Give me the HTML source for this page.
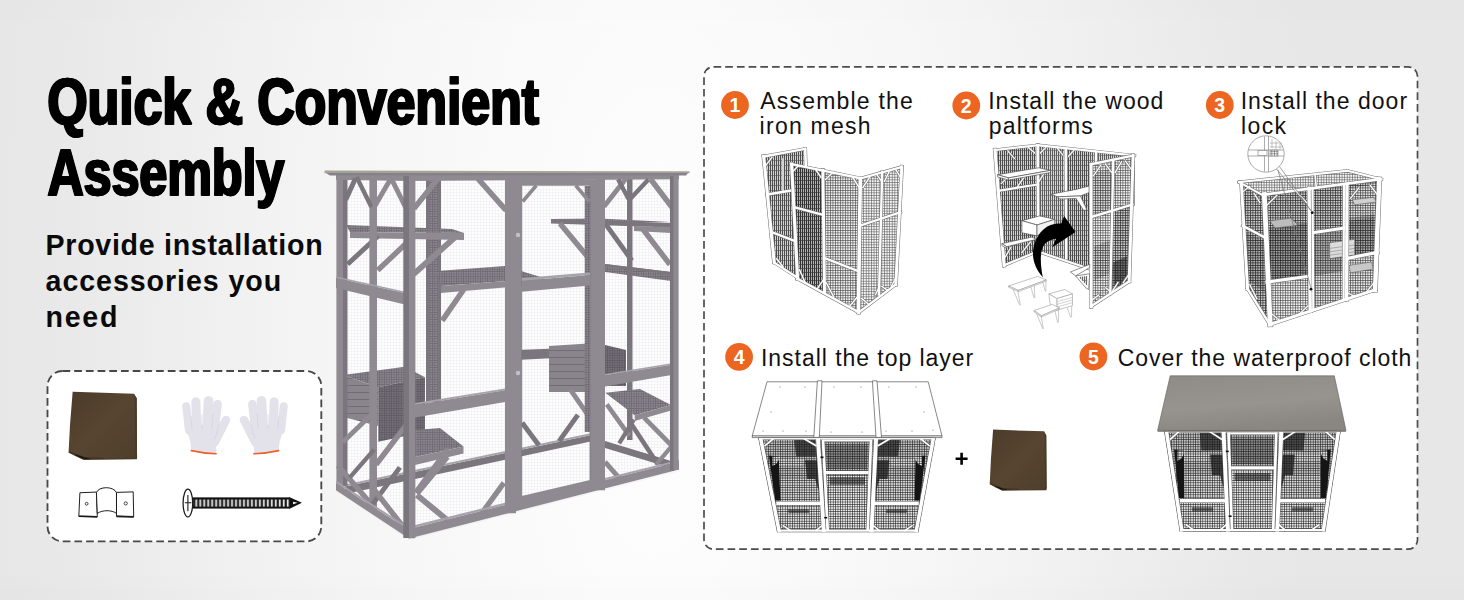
<!DOCTYPE html>
<html>
<head>
<meta charset="utf-8">
<title>Quick &amp; Convenient Assembly</title>
<style>
html,body{margin:0;padding:0;background:#fff;}
body{width:1464px;height:600px;overflow:hidden;font-family:"Liberation Sans",sans-serif;}
svg{display:block;}
text{font-family:"Liberation Sans",sans-serif;}
.hd{font-weight:bold;font-size:65.2px;fill:#000;stroke:#000;stroke-width:1.5px;stroke-linejoin:miter;stroke-miterlimit:2;}
.sub{font-weight:bold;font-size:28.6px;fill:#0a0a0a;}
.lbl{font-size:23px;fill:#111;}
.num{font-weight:bold;font-size:19.5px;fill:#fff;text-anchor:middle;}
</style>
</head>
<body>
<svg width="1464" height="600" viewBox="0 0 1464 600">
<defs>
  <radialGradient id="bgR" gradientUnits="userSpaceOnUse" cx="0" cy="0" r="1" gradientTransform="translate(655 360) scale(650 1700)">
    <stop offset="0" stop-color="#fefefe"/>
    <stop offset="0.18" stop-color="#fbfbfb"/>
    <stop offset="0.41" stop-color="#f7f7f7"/>
    <stop offset="0.64" stop-color="#f1f1f1"/>
    <stop offset="0.90" stop-color="#e9e9e9"/>
    <stop offset="1" stop-color="#e7e7e7"/>
  </radialGradient>
  <linearGradient id="bgV" x1="0" y1="0" x2="0" y2="1">
    <stop offset="0" stop-color="#000" stop-opacity="0.006"/>
    <stop offset="0.05" stop-color="#000" stop-opacity="0"/>
    <stop offset="0.95" stop-color="#000" stop-opacity="0"/>
    <stop offset="1" stop-color="#000" stop-opacity="0.01"/>
  </linearGradient>

  <pattern id="meshL" width="3" height="3" patternUnits="userSpaceOnUse"><rect width="3" height="3" fill="#fefefe"/><path d="M0 0.5H3M0.5 0V3" stroke="#eeedf0" stroke-width="0.6"/></pattern>
  <pattern id="meshD" width="2.4" height="2.4" patternUnits="userSpaceOnUse"><rect width="2.4" height="2.4" fill="#8d8890"/><path d="M0 0.4H2.4M0.4 0V2.4" stroke="#6f6a73" stroke-width="0.8"/></pattern>
  <pattern id="meshDD" width="2.4" height="2.4" patternUnits="userSpaceOnUse"><rect width="2.4" height="2.4" fill="#77727a"/><path d="M0 0.4H2.4M0.4 0V2.4" stroke="#5f5a63" stroke-width="0.8"/></pattern>
  <pattern id="slat" width="6" height="7" patternUnits="userSpaceOnUse"><rect width="6" height="7" fill="#8a858c"/><path d="M0 0.5H6" stroke="#716c75" stroke-width="1"/></pattern>

  <linearGradient id="tarpG" x1="0" y1="0" x2="1" y2="1">
    <stop offset="0" stop-color="#4b3b29"/><stop offset="0.5" stop-color="#574531"/><stop offset="1" stop-color="#4e3e2b"/>
  </linearGradient>
  <g id="tarp">
    <path d="M64,508 L118,534 L178,562 L578,557 L576,530 L70,480 Z" fill="#4a3c2b"/>
    <path d="M104,522 L168,552 L230,556 L150,528 Z" fill="#15110c"/>
    <path d="M95,50 L555,65 L575,100 L578,546 L330,549 L186,543 L122,520 L65,497 L75,300 Z" fill="url(#tarpG)"/>
    <path d="M555,65 L575,100 L578,546 L566,546 L560,90 Z" fill="#493a29"/>
    <path d="M66,498 L122,521 L186,544 L330,550" fill="none" stroke="#2b2219" stroke-width="4"/>
  </g>
  <g id="glove">
    <g stroke="#e3e1e9" stroke-linecap="round" fill="none">
      <line x1="142" y1="340" x2="122" y2="160" stroke-width="60"/>
      <line x1="200" y1="330" x2="194" y2="126" stroke-width="68"/>
      <line x1="278" y1="330" x2="289" y2="118" stroke-width="72"/>
      <line x1="335" y1="340" x2="357" y2="143" stroke-width="64"/>
      <line x1="335" y1="430" x2="420" y2="262" stroke-width="64"/>
    </g>
    <path d="M112,300 L372,300 L366,380 L346,452 L346,512 Q250,512 160,490 L152,420 Z" fill="#e3e1e9"/>
    <g stroke="#d2d0da" stroke-width="5" fill="none" stroke-linecap="round">
      <path d="M158,235 L166,330"/><path d="M238,222 L240,330"/><path d="M322,215 L312,330"/><path d="M366,300 L340,400"/>
    </g>
    <path d="M160,492 Q250,512 346,516" fill="none" stroke="#e9642a" stroke-width="12" stroke-linecap="round"/>
  </g>

  <pattern id="thr" width="22.4" height="40" patternUnits="userSpaceOnUse" x="752" y="138"><rect width="22.4" height="40" fill="#111"/><rect x="10" y="0" width="10" height="40" fill="#f4f4f4"/></pattern>

  <pattern id="hV" width="2" height="5" patternUnits="userSpaceOnUse"><rect width="2" height="5" fill="#d2d2d2"/><rect width="0.9" height="5" fill="#3c3c3c"/><rect width="2" height="0.6" fill="#555"/></pattern>
  <pattern id="hVd" width="2" height="4" patternUnits="userSpaceOnUse"><rect width="2" height="4" fill="#b4b4b4"/><rect width="1" height="4" fill="#303030"/><rect width="2" height="0.7" fill="#3a3a3a"/></pattern>
  <pattern id="hVl" width="2" height="5" patternUnits="userSpaceOnUse"><rect width="2" height="5" fill="#dedede"/><rect width="0.8" height="5" fill="#4a4a4a"/><rect width="2" height="0.6" fill="#666"/></pattern>
  <pattern id="gM" width="2.5" height="2.5" patternUnits="userSpaceOnUse"><rect width="2.5" height="2.5" fill="#f1f1f1"/><path d="M0.4 0V2.5M0 0.4H2.5" stroke="#444" stroke-width="0.6"/></pattern>
  <pattern id="gMl" width="2.6" height="2.6" patternUnits="userSpaceOnUse"><rect width="2.6" height="2.6" fill="#f5f5f5"/><path d="M0.4 0V2.6M0 0.4H2.6" stroke="#585858" stroke-width="0.6"/></pattern>
  <pattern id="gMd" width="2.5" height="2.5" patternUnits="userSpaceOnUse"><rect width="2.5" height="2.5" fill="#cdcdcd"/><path d="M0.4 0V2.5M0 0.4H2.5" stroke="#2e2e2e" stroke-width="0.72"/></pattern>
  <pattern id="gK" width="2.4" height="2.4" patternUnits="userSpaceOnUse"><path d="M0.4 0V2.4M0 0.4H2.4" stroke="#161616" stroke-width="0.54"/></pattern>

  <linearGradient id="roofG" x1="0" y1="0" x2="0.3" y2="1"><stop offset="0" stop-color="#8f8c87"/><stop offset="0.6" stop-color="#979490"/><stop offset="1" stop-color="#8a8783"/></linearGradient>

</defs>
<!-- BACKGROUND -->
<rect x="0" y="0" width="1464" height="600" fill="#e7e7e7"/>
<rect x="0" y="0" width="1464" height="600" fill="url(#bgR)"/>
<rect x="0" y="0" width="1464" height="600" fill="url(#bgV)"/>

<!-- HEADLINE -->
<g id="headline">
  <g id="hl1"><text class="hd" x="47.4" y="124" textLength="491.6" lengthAdjust="spacingAndGlyphs">Quick &amp; Convenient</text></g>
  <use href="#hl1" x="-0.6"/><use href="#hl1" x="0.6"/>
  <g id="hl2"><text class="hd" x="47.5" y="195" textLength="236.8" lengthAdjust="spacingAndGlyphs">Assembly</text></g>
  <use href="#hl2" x="-0.6"/><use href="#hl2" x="0.6"/>
</g>
<g id="subhead">
  <text class="sub" x="45.6" y="254.8" textLength="277" lengthAdjust="spacing">Provide installation</text>
  <text class="sub" x="45.6" y="291" textLength="235.5" lengthAdjust="spacing">accessories you</text>
  <text class="sub" x="45.6" y="327.3" textLength="71.8" lengthAdjust="spacing">need</text>
</g>

<!-- ACCESSORY BOX -->
<rect id="accbox" x="47.5" y="371" width="273.8" height="170.4" rx="15" ry="15" fill="#ffffff" stroke="#484848" stroke-width="1.85" stroke-dasharray="7.7 4"/>
<g id="acc">
<use href="#tarp" transform="translate(60 385) scale(0.13333)"/>
<use href="#glove" transform="translate(170 385) scale(0.13333)"/>
<use href="#glove" transform="translate(300 385) scale(-0.13333 0.13333)"/>
<g transform="translate(60 475) scale(0.17762)" fill="#fff" stroke="#1a1a1a" stroke-width="5.5" stroke-linejoin="round">
<path d="M112,100 L205,96 L210,234 L106,232 Z"/>
<path d="M318,98 L412,95 L415,235 L318,232 Z"/>
<path d="M205,100 C215,62 305,62 318,100 L318,216 C290,196 240,196 210,216 Z"/>
<path d="M106,232 L210,236 M318,233 L415,236" stroke-width="9"/>
<circle cx="150" cy="162" r="8" stroke-width="4.5"/><circle cx="370" cy="160" r="9" stroke-width="4.5"/>
<rect x="748" y="126" width="544" height="63" fill="#111" stroke="none"/>
<rect x="752" y="138" width="538" height="40" fill="url(#thr)" stroke="none"/>
<path d="M1290,124 L1362,156 L1290,191 Z" fill="#111" stroke="none"/>
<path d="M1312,150 L1338,156 L1312,164 Z" fill="#fff" stroke="none"/>
<ellipse cx="720" cy="158" rx="27" ry="78" stroke-width="7"/>
<path d="M720,112 V204 M703,156 H740" stroke-width="6" fill="none"/>
</g>
</g>

<!-- PRODUCT -->
<g id="catio">
<polygon points="336,491 409,540 680,471 640,455" fill="#000" opacity="0.03"/>
<polygon points="342.0,178.0 409.0,178.0 409.0,532.0 342.0,488.0" fill="url(#meshL)" />
<polygon points="409.0,178.0 674.0,178.0 674.0,466.0 409.0,532.0" fill="url(#meshL)" />
<polygon points="426.0,178.0 441.0,178.0 441.0,402.0 426.0,402.0" fill="url(#meshD)" />
<polygon points="426.0,178.0 429.0,178.0 429.0,402.0 426.0,402.0" fill="#7b767e" />
<polygon points="438.0,178.0 441.0,178.0 441.0,402.0 438.0,402.0" fill="#7b767e" />
<polygon points="516.0,350.0 596.0,347.0 596.0,356.0 516.0,360.0" fill="#7b767e" />
<polygon points="605.0,264.0 671.0,272.0 671.0,281.0 605.0,272.0" fill="url(#meshD)" />
<polygon points="605.0,264.0 671.0,272.0 671.0,274.5 605.0,266.5" fill="#7b767e" />
<polygon points="345.0,486.5 600.0,433.2 600.0,439.5 345.0,494.0" fill="#7b767e" />
<polygon points="345.0,484.5 600.0,431.2 600.0,433.2 345.0,486.5" fill="#a7a3aa" />
<polygon points="627.0,178.0 632.5,178.0 632.5,440.0 627.0,440.0" fill="#7b767e" />
<polygon points="346.0,225.0 452.0,229.0 464.0,233.0 350.0,232.0" fill="url(#meshD)" />
<polygon points="350.0,232.0 464.0,233.0 464.0,240.0 350.0,238.0" fill="#8f8a92" />
<line x1="347.6" y1="264.2" x2="378.4" y2="235.8" stroke="#7b767e" stroke-width="4.9"/>
<line x1="377.7" y1="270.2" x2="414.3" y2="235.8" stroke="#8f8a92" stroke-width="5.4"/>
<line x1="413.6" y1="274.1" x2="454.4" y2="237.9" stroke="#8f8a92" stroke-width="5.9"/>
<polygon points="437.0,271.0 505.0,266.0 544.0,278.0 441.0,286.0" fill="url(#meshD)" />
<polygon points="441.0,286.0 544.0,278.0 544.0,284.0 441.0,293.0" fill="#8f8a92" />
<line x1="442.2" y1="320.6" x2="463.8" y2="289.4" stroke="#8f8a92" stroke-width="5.4"/>
<polygon points="551.0,219.0 600.0,218.5 671.0,222.0 560.0,224.0" fill="url(#meshD)" />
<polygon points="551.0,219.0 671.0,223.0 671.0,227.5 551.0,223.5" fill="#7b767e" />
<polygon points="634.0,226.0 671.0,227.0 671.0,233.0 634.0,231.0" fill="#8f8a92" />
<line x1="560.0" y1="223.5" x2="594.0" y2="264.5" stroke="#8f8a92" stroke-width="5.4"/>
<line x1="605.1" y1="223.4" x2="631.9" y2="260.6" stroke="#7b767e" stroke-width="4.9"/>
<line x1="643.1" y1="229.5" x2="669.9" y2="264.5" stroke="#8f8a92" stroke-width="5.4"/>
<polygon points="549.0,346.0 596.0,343.0 596.0,392.0 549.0,392.0" fill="url(#slat)" />
<polygon points="605.0,345.0 626.0,350.0 626.0,386.0 605.0,386.0" fill="url(#meshDD)" />
<line x1="570.2" y1="389.4" x2="591.8" y2="420.6" stroke="#8f8a92" stroke-width="4.9"/>
<polygon points="605.0,441.0 671.0,461.0 671.0,468.0 605.0,448.0" fill="#7b767e" />
<line x1="606.8" y1="404.4" x2="629.2" y2="435.6" stroke="#8f8a92" stroke-width="4.6"/>
<line x1="631.2" y1="423.7" x2="657.8" y2="464.3" stroke="#7b767e" stroke-width="4.6"/>
<line x1="619.2" y1="443.3" x2="633.8" y2="419.7" stroke="#7b767e" stroke-width="4.2"/>
<line x1="644.1" y1="417.6" x2="671.9" y2="445.9" stroke="#8f8a92" stroke-width="4.8"/>
<line x1="656.5" y1="464.1" x2="671.5" y2="446.4" stroke="#8f8a92" stroke-width="4.2"/>
<polygon points="605.3,392.7 640.0,389.0 671.0,405.0 634.7,415.3" fill="url(#meshD)" />
<polygon points="634.7,415.3 671.0,405.0 671.0,410.5 634.7,421.0" fill="#8f8a92" />
<line x1="577.9" y1="414.8" x2="559.1" y2="441.2" stroke="#7b767e" stroke-width="4.9"/>
<line x1="522.1" y1="422.8" x2="538.9" y2="445.2" stroke="#7b767e" stroke-width="4.9"/>
<polygon points="343.3,375.0 405.0,366.7 425.0,377.3 378.3,387.3" fill="url(#meshD)" />
<polygon points="343.3,375.0 378.3,387.3 378.3,426.0 343.3,417.0" fill="url(#slat)" />
<polygon points="378.3,387.3 425.0,377.3 425.0,431.7 378.3,441.7" fill="url(#meshDD)" />
<polygon points="415.0,430.0 440.0,428.0 463.5,446.5 415.0,457.0" fill="url(#meshD)" />
<polygon points="415.0,457.0 463.5,446.5 463.5,453.5 415.0,465.0" fill="#8f8a92" />
<line x1="416.7" y1="493.5" x2="447.3" y2="456.5" stroke="#8f8a92" stroke-width="5.9"/>
<polygon points="336.4,176.0 343.0,176.0 343.0,490.0 336.4,490.0" fill="#8f8a92" />
<polygon points="343.0,176.0 347.5,176.0 347.5,486.0 343.0,486.0" fill="#7b767e" />
<polygon points="369.4,176.0 377.0,176.0 377.0,511.0 369.4,511.0" fill="#8f8a92" />
<polygon points="336.0,173.7 409.0,174.0 409.0,181.0 336.0,179.8" fill="#8f8a92" />
<line x1="345.7" y1="199.8" x2="355.3" y2="178.7" stroke="#7b767e" stroke-width="5.0"/>
<line x1="356.6" y1="177.1" x2="371.4" y2="206.9" stroke="#7b767e" stroke-width="4.4"/>
<line x1="374.4" y1="206.8" x2="391.6" y2="177.2" stroke="#8f8a92" stroke-width="4.9"/>
<line x1="390.6" y1="177.1" x2="406.4" y2="208.9" stroke="#8f8a92" stroke-width="4.9"/>
<polygon points="336.0,276.6 409.0,292.4 409.0,294.0 336.0,278.0" fill="#a7a3aa" /><polygon points="336.0,278.0 409.0,294.0 409.0,305.5 336.0,288.0" fill="#8f8a92" />
<line x1="342.7" y1="442.2" x2="374.3" y2="411.8" stroke="#8f8a92" stroke-width="4.9"/>
<line x1="376.1" y1="464.5" x2="405.9" y2="425.5" stroke="#8f8a92" stroke-width="5.4"/>
<line x1="337.9" y1="465.6" x2="374.1" y2="507.4" stroke="#8f8a92" stroke-width="5.4"/>
<line x1="349.9" y1="477.4" x2="374.1" y2="449.6" stroke="#7b767e" stroke-width="4.4"/>
<line x1="370.1" y1="507.6" x2="399.9" y2="467.4" stroke="#7b767e" stroke-width="4.9"/>
<line x1="374.0" y1="489.5" x2="406.0" y2="530.5" stroke="#8f8a92" stroke-width="5.4"/>
<polygon points="409.0,174.0 679.0,173.6 679.0,179.3 409.0,181.0" fill="#8f8a92" />
<line x1="414.0" y1="208.5" x2="438.0" y2="178.5" stroke="#8f8a92" stroke-width="5.4"/>
<line x1="477.9" y1="178.6" x2="506.1" y2="210.4" stroke="#8f8a92" stroke-width="5.4"/>
<line x1="604.0" y1="206.5" x2="626.0" y2="178.5" stroke="#8f8a92" stroke-width="4.9"/>
<line x1="618.1" y1="179.2" x2="628.4" y2="198.8" stroke="#7b767e" stroke-width="4.4"/>
<line x1="630.6" y1="198.5" x2="648.4" y2="179.5" stroke="#7b767e" stroke-width="4.4"/>
<line x1="650.1" y1="178.5" x2="672.9" y2="208.5" stroke="#8f8a92" stroke-width="5.4"/>
<polygon points="415.0,403.0 505.0,388.5 505.0,390.3 415.0,405.0" fill="#a7a3aa" /><polygon points="415.0,405.0 505.0,390.3 505.0,402.0 415.0,417.5" fill="#8f8a92" />
<polygon points="605.0,374.0 670.0,363.4 670.0,365.0 605.0,375.7" fill="#a7a3aa" /><polygon points="605.0,375.7 670.0,365.0 670.0,375.3 605.0,386.5" fill="#8f8a92" />
<line x1="416.8" y1="495.0" x2="447.2" y2="520.0" stroke="#8f8a92" stroke-width="5.9"/>
<line x1="416.1" y1="492.6" x2="447.9" y2="449.4" stroke="#8f8a92" stroke-width="5.9"/>
<line x1="481.1" y1="514.2" x2="503.9" y2="482.8" stroke="#8f8a92" stroke-width="5.4"/>
<line x1="605.0" y1="461.9" x2="621.0" y2="480.1" stroke="#8f8a92" stroke-width="4.9"/>
<polygon points="336.0,480.8 409.0,527.5 409.0,530.0 336.0,483.0" fill="#a7a3aa" /><polygon points="336.0,483.0 409.0,530.0 409.0,538.5 336.0,490.3" fill="#8f8a92" />
<polygon points="409.0,526.5 679.0,459.8 679.0,461.8 409.0,529.0" fill="#a7a3aa" /><polygon points="409.0,529.0 679.0,461.8 679.0,469.5 409.0,538.5" fill="#8f8a92" />
<polygon points="505.0,176.0 516.0,176.0 516.0,513.2 505.0,513.2" fill="#8f8a92" />
<polygon points="595.8,176.0 605.0,176.0 605.0,490.2 595.8,490.2" fill="#8f8a92" />
<polygon points="670.0,176.0 674.0,176.0 674.0,470.8 670.0,470.8" fill="#7b767e" />
<polygon points="673.5,176.0 678.6,176.0 678.6,469.7 673.5,469.7" fill="#8f8a92" />
<polygon points="584.7,186.0 590.0,186.0 590.0,432.0 584.7,432.0" fill="url(#meshD)" />
<path fill-rule="evenodd" fill="#8f8a92" d="M515.7,179.7 L596,179.7 L596,485.7 L515.7,504.4 Z M521.7,185.7 L521.7,496 L590,480.1 L590,185.7 Z"/>
<path d="M521.7,185.7 L521.7,496 M590,185.7 L590,480" stroke="#7b767e" stroke-width="0.8" fill="none"/>
<polygon points="521.7,280.7 590.0,275.1 590.0,285.6 521.7,291.8" fill="#8f8a92" />
<polygon points="521.7,278.0 590.0,272.5 590.0,275.1 521.7,280.7" fill="#a7a3aa" />
<line x1="522.7" y1="201.5" x2="536.3" y2="185.5" stroke="#8f8a92" stroke-width="3.6"/>
<line x1="575.7" y1="185.5" x2="589.3" y2="201.5" stroke="#8f8a92" stroke-width="3.6"/>
<circle cx="518" cy="235" r="2.2" fill="#c4c0c6"/><circle cx="518" cy="373" r="2.2" fill="#c4c0c6"/>
<polygon points="403.3,176.0 409.5,176.0 409.5,538.0 403.3,538.0" fill="#7b767e" />
<polygon points="409.0,176.0 415.4,176.0 415.4,538.2 409.0,538.2" fill="#8f8a92" />
<polygon points="324.5,170.6 689.5,171.2 689.5,173.2 324.5,173.2" fill="#a5a395" />
<polygon points="326.0,173.0 688.0,173.0 686.0,175.6 330.0,175.6" fill="#85818a" />
</g>

<!-- STEPS PANEL -->
<rect id="panel" x="704" y="66.8" width="713.5" height="482.4" rx="9.5" ry="9.5" fill="#ffffff" stroke="#4c4c4c" stroke-width="1.7" stroke-dasharray="7.7 4"/>

<!-- STEP LABELS -->
<g id="labels">
  <circle cx="735" cy="105" r="13.9" fill="#ec6521"/><text class="num" x="735" y="112">1</text>
  <text class="lbl" x="760.2" y="109.2" textLength="152.6" lengthAdjust="spacing">Assemble the</text>
  <text class="lbl" x="759.6" y="134.2" textLength="111" lengthAdjust="spacing">iron mesh</text>

  <circle cx="966.3" cy="105.5" r="13.9" fill="#ec6521"/><text class="num" x="966.3" y="112.5">2</text>
  <text class="lbl" x="988.2" y="109.2" textLength="175.2" lengthAdjust="spacing">Install the wood</text>
  <text class="lbl" x="988.8" y="134" textLength="104" lengthAdjust="spacing">paltforms</text>

  <circle cx="1219.8" cy="105" r="13.9" fill="#ec6521"/><text class="num" x="1219.8" y="112">3</text>
  <text class="lbl" x="1240.7" y="109.2" textLength="166.4" lengthAdjust="spacing">Install the door</text>
  <text class="lbl" x="1241" y="134" textLength="45" lengthAdjust="spacing">lock</text>

  <circle cx="739.1" cy="356.8" r="13.9" fill="#ec6521"/><text class="num" x="739.1" y="363.8">4</text>
  <text class="lbl" x="761" y="366" textLength="212.2" lengthAdjust="spacing">Install the top layer</text>

  <circle cx="1093.4" cy="356.5" r="13.9" fill="#ec6521"/><text class="num" x="1093.4" y="363.5">5</text>
  <text class="lbl" x="1117.8" y="366" textLength="293.6" lengthAdjust="spacing">Cover the waterproof cloth</text>
</g>

<!-- STEP ILLUSTRATIONS -->
<g id="step1">
<polygon points="764.0,156.5 805.8,148.9 805.8,166.0 791.3,164.1 797.3,278.1 774.2,262.9" fill="url(#hV)" />
<polygon points="791.9,164.1 822.3,170.4 824.5,292.1 797.6,278.8" fill="url(#hVd)" />
<polygon points="824.2,170.7 860.3,178.3 858.4,311.7 824.8,292.7" fill="url(#gM)" />
<polygon points="861.0,178.3 902.2,167.2 896.1,284.5 859.1,312.1" fill="url(#gMl)" />
<g stroke-linecap="square">
<line x1="763.7" y1="156.5" x2="774.2" y2="262.0" stroke="#6a6a6a" stroke-width="4.20" />
<line x1="805.2" y1="148.9" x2="805.8" y2="165.3" stroke="#6a6a6a" stroke-width="3.60" />
<line x1="763.7" y1="156.5" x2="805.2" y2="148.9" stroke="#6a6a6a" stroke-width="3.40" />
<line x1="767.2" y1="194.5" x2="790.0" y2="190.7" stroke="#6a6a6a" stroke-width="3.40" />
<line x1="771.0" y1="231.9" x2="794.1" y2="240.8" stroke="#6a6a6a" stroke-width="3.40" />
<line x1="774.2" y1="262.6" x2="796.3" y2="276.9" stroke="#6a6a6a" stroke-width="3.20" />
<line x1="783.0" y1="159.0" x2="783.0" y2="192.3" stroke="#6a6a6a" stroke-width="2.40" />
<line x1="791.6" y1="164.1" x2="797.6" y2="278.8" stroke="#6a6a6a" stroke-width="4.20" />
<line x1="822.9" y1="170.4" x2="824.5" y2="292.1" stroke="#6a6a6a" stroke-width="4.00" />
<line x1="860.3" y1="178.3" x2="858.4" y2="312.1" stroke="#6a6a6a" stroke-width="4.60" />
<line x1="791.6" y1="164.1" x2="860.3" y2="178.3" stroke="#6a6a6a" stroke-width="3.40" />
<line x1="794.1" y1="207.2" x2="822.9" y2="214.8" stroke="#6a6a6a" stroke-width="3.40" />
<line x1="824.2" y1="257.9" x2="858.4" y2="271.2" stroke="#6a6a6a" stroke-width="3.40" />
<line x1="797.6" y1="278.8" x2="858.4" y2="312.1" stroke="#6a6a6a" stroke-width="3.40" />
<line x1="882.2" y1="171.7" x2="879.0" y2="294.6" stroke="#6a6a6a" stroke-width="3.40" />
<line x1="901.8" y1="166.9" x2="895.8" y2="284.5" stroke="#6a6a6a" stroke-width="4.00" />
<line x1="861.0" y1="178.3" x2="901.8" y2="166.9" stroke="#6a6a6a" stroke-width="3.40" />
<line x1="860.3" y1="225.6" x2="900.3" y2="212.2" stroke="#6a6a6a" stroke-width="3.40" />
<line x1="859.1" y1="312.1" x2="895.8" y2="284.5" stroke="#6a6a6a" stroke-width="3.40" />
<line x1="765.9" y1="165.3" x2="771.9" y2="157.4" stroke="#6a6a6a" stroke-width="2.40" />
<line x1="792.5" y1="171.7" x2="798.2" y2="166.0" stroke="#6a6a6a" stroke-width="2.40" />
<line x1="815.3" y1="169.2" x2="821.0" y2="177.4" stroke="#6a6a6a" stroke-width="2.40" />
<line x1="825.5" y1="179.6" x2="833.1" y2="172.3" stroke="#6a6a6a" stroke-width="2.40" />
<line x1="852.7" y1="177.4" x2="859.1" y2="187.5" stroke="#6a6a6a" stroke-width="2.40" />
<line x1="862.9" y1="187.5" x2="870.2" y2="176.4" stroke="#6a6a6a" stroke-width="2.40" />
<line x1="876.5" y1="174.2" x2="881.9" y2="181.8" stroke="#6a6a6a" stroke-width="2.40" />
<line x1="884.4" y1="181.2" x2="889.2" y2="171.7" stroke="#6a6a6a" stroke-width="2.40" />
<line x1="895.5" y1="169.2" x2="900.9" y2="178.0" stroke="#6a6a6a" stroke-width="2.40" />
<line x1="776.7" y1="258.8" x2="783.0" y2="266.7" stroke="#6a6a6a" stroke-width="2.40" />
<line x1="799.5" y1="269.9" x2="805.2" y2="282.6" stroke="#6a6a6a" stroke-width="2.40" />
<line x1="817.2" y1="288.9" x2="823.6" y2="279.4" stroke="#6a6a6a" stroke-width="2.40" />
<line x1="826.1" y1="282.6" x2="833.7" y2="296.8" stroke="#6a6a6a" stroke-width="2.40" />
<line x1="849.6" y1="306.3" x2="857.5" y2="296.8" stroke="#6a6a6a" stroke-width="2.40" />
<line x1="861.6" y1="298.4" x2="869.2" y2="304.8" stroke="#6a6a6a" stroke-width="2.40" />
<line x1="875.5" y1="294.6" x2="879.7" y2="285.8" stroke="#6a6a6a" stroke-width="2.40" />
<line x1="881.9" y1="286.4" x2="887.6" y2="290.5" stroke="#6a6a6a" stroke-width="2.40" />
<line x1="891.4" y1="286.4" x2="896.5" y2="276.2" stroke="#6a6a6a" stroke-width="2.40" />
<line x1="763.7" y1="156.5" x2="774.2" y2="262.0" stroke="#ffffff" stroke-width="3.20" />
<line x1="805.2" y1="148.9" x2="805.8" y2="165.3" stroke="#ffffff" stroke-width="2.60" />
<line x1="763.7" y1="156.5" x2="805.2" y2="148.9" stroke="#ffffff" stroke-width="2.40" />
<line x1="767.2" y1="194.5" x2="790.0" y2="190.7" stroke="#ffffff" stroke-width="2.40" />
<line x1="771.0" y1="231.9" x2="794.1" y2="240.8" stroke="#ffffff" stroke-width="2.40" />
<line x1="774.2" y1="262.6" x2="796.3" y2="276.9" stroke="#ffffff" stroke-width="2.20" />
<line x1="783.0" y1="159.0" x2="783.0" y2="192.3" stroke="#ffffff" stroke-width="1.40" />
<line x1="791.6" y1="164.1" x2="797.6" y2="278.8" stroke="#ffffff" stroke-width="3.20" />
<line x1="822.9" y1="170.4" x2="824.5" y2="292.1" stroke="#ffffff" stroke-width="3.00" />
<line x1="860.3" y1="178.3" x2="858.4" y2="312.1" stroke="#ffffff" stroke-width="3.60" />
<line x1="791.6" y1="164.1" x2="860.3" y2="178.3" stroke="#ffffff" stroke-width="2.40" />
<line x1="794.1" y1="207.2" x2="822.9" y2="214.8" stroke="#ffffff" stroke-width="2.40" />
<line x1="824.2" y1="257.9" x2="858.4" y2="271.2" stroke="#ffffff" stroke-width="2.40" />
<line x1="797.6" y1="278.8" x2="858.4" y2="312.1" stroke="#ffffff" stroke-width="2.40" />
<line x1="882.2" y1="171.7" x2="879.0" y2="294.6" stroke="#ffffff" stroke-width="2.40" />
<line x1="901.8" y1="166.9" x2="895.8" y2="284.5" stroke="#ffffff" stroke-width="3.00" />
<line x1="861.0" y1="178.3" x2="901.8" y2="166.9" stroke="#ffffff" stroke-width="2.40" />
<line x1="860.3" y1="225.6" x2="900.3" y2="212.2" stroke="#ffffff" stroke-width="2.40" />
<line x1="859.1" y1="312.1" x2="895.8" y2="284.5" stroke="#ffffff" stroke-width="2.40" />
<line x1="765.9" y1="165.3" x2="771.9" y2="157.4" stroke="#ffffff" stroke-width="1.40" />
<line x1="792.5" y1="171.7" x2="798.2" y2="166.0" stroke="#ffffff" stroke-width="1.40" />
<line x1="815.3" y1="169.2" x2="821.0" y2="177.4" stroke="#ffffff" stroke-width="1.40" />
<line x1="825.5" y1="179.6" x2="833.1" y2="172.3" stroke="#ffffff" stroke-width="1.40" />
<line x1="852.7" y1="177.4" x2="859.1" y2="187.5" stroke="#ffffff" stroke-width="1.40" />
<line x1="862.9" y1="187.5" x2="870.2" y2="176.4" stroke="#ffffff" stroke-width="1.40" />
<line x1="876.5" y1="174.2" x2="881.9" y2="181.8" stroke="#ffffff" stroke-width="1.40" />
<line x1="884.4" y1="181.2" x2="889.2" y2="171.7" stroke="#ffffff" stroke-width="1.40" />
<line x1="895.5" y1="169.2" x2="900.9" y2="178.0" stroke="#ffffff" stroke-width="1.40" />
<line x1="776.7" y1="258.8" x2="783.0" y2="266.7" stroke="#ffffff" stroke-width="1.40" />
<line x1="799.5" y1="269.9" x2="805.2" y2="282.6" stroke="#ffffff" stroke-width="1.40" />
<line x1="817.2" y1="288.9" x2="823.6" y2="279.4" stroke="#ffffff" stroke-width="1.40" />
<line x1="826.1" y1="282.6" x2="833.7" y2="296.8" stroke="#ffffff" stroke-width="1.40" />
<line x1="849.6" y1="306.3" x2="857.5" y2="296.8" stroke="#ffffff" stroke-width="1.40" />
<line x1="861.6" y1="298.4" x2="869.2" y2="304.8" stroke="#ffffff" stroke-width="1.40" />
<line x1="875.5" y1="294.6" x2="879.7" y2="285.8" stroke="#ffffff" stroke-width="1.40" />
<line x1="881.9" y1="286.4" x2="887.6" y2="290.5" stroke="#ffffff" stroke-width="1.40" />
<line x1="891.4" y1="286.4" x2="896.5" y2="276.2" stroke="#ffffff" stroke-width="1.40" />
</g>
</g>
<g id="step2">
<polygon points="994.8,150.4 1037.0,145.4 1037.5,251.0 1004.1,264.7" fill="url(#hV)" />
<polygon points="1037.0,145.4 1134.6,155.6 1134.6,205.0 1089.9,269.4 1037.5,251.0" fill="url(#hV)" opacity="0.9"/>
<polygon points="1065.2,148.7 1089.1,151.3 1089.1,267.9 1065.7,259.7" fill="url(#hV)" />
<polygon points="1089.5,164.3 1134.6,155.2 1128.9,281.8 1090.0,307.0" fill="url(#gM)" />
<polygon points="1115.1,211.5 1132.4,205.0 1127.7,280.8 1111.0,291.3" fill="url(#gMd)" />
<polygon points="1093.4,172.5 1111.8,169.3 1111.8,211.5 1093.4,215.9" fill="url(#gMd)" opacity="0.55"/>
<polygon points="1113.1,262.4 1127.1,256.3 1127.5,279.9 1113.8,288.6" fill="#1e1e1e" opacity="0.55"/>
<polygon points="1093.9,246.6 1109.6,240.5 1110.0,273.8 1093.9,280.8" fill="url(#gMd)" opacity="0.7"/>
<g stroke-linecap="square">
<line x1="995.0" y1="150.0" x2="1004.1" y2="265.3" stroke="#6a6a6a" stroke-width="4.20" />
<line x1="1037.7" y1="145.2" x2="1038.3" y2="249.5" stroke="#6a6a6a" stroke-width="3.80" />
<line x1="995.0" y1="150.0" x2="1037.7" y2="145.2" stroke="#6a6a6a" stroke-width="3.20" />
<line x1="998.0" y1="190.9" x2="1038.1" y2="184.4" stroke="#6a6a6a" stroke-width="3.20" />
<line x1="1004.1" y1="265.3" x2="1037.5" y2="251.4" stroke="#6a6a6a" stroke-width="3.20" />
<line x1="1037.7" y1="145.2" x2="1134.6" y2="155.6" stroke="#6a6a6a" stroke-width="3.20" />
<line x1="1065.7" y1="148.7" x2="1066.3" y2="258.2" stroke="#6a6a6a" stroke-width="3.60" />
<line x1="1096.0" y1="151.9" x2="1096.0" y2="163.8" stroke="#6a6a6a" stroke-width="3.40" />
<line x1="1037.5" y1="251.4" x2="1090.0" y2="268.9" stroke="#6a6a6a" stroke-width="3.20" />
<line x1="1007.8" y1="150.8" x2="1014.3" y2="158.4" stroke="#6a6a6a" stroke-width="2.30" />
<line x1="1028.4" y1="147.6" x2="1034.9" y2="153.0" stroke="#6a6a6a" stroke-width="2.30" />
<line x1="1040.3" y1="153.0" x2="1045.7" y2="147.6" stroke="#6a6a6a" stroke-width="2.30" />
<line x1="1057.6" y1="148.7" x2="1063.0" y2="155.2" stroke="#6a6a6a" stroke-width="2.30" />
<line x1="1068.5" y1="156.3" x2="1073.9" y2="150.4" stroke="#6a6a6a" stroke-width="2.30" />
<line x1="1001.3" y1="183.4" x2="1008.8" y2="176.4" stroke="#6a6a6a" stroke-width="2.30" />
<line x1="1017.5" y1="186.6" x2="1025.1" y2="175.8" stroke="#6a6a6a" stroke-width="2.30" />
<line x1="1039.2" y1="181.2" x2="1044.6" y2="172.5" stroke="#6a6a6a" stroke-width="2.30" />
<line x1="1004.5" y1="258.2" x2="1011.0" y2="247.3" stroke="#6a6a6a" stroke-width="2.30" />
<line x1="1021.9" y1="252.7" x2="1030.5" y2="241.9" stroke="#6a6a6a" stroke-width="2.30" />
<line x1="995.0" y1="150.0" x2="1004.1" y2="265.3" stroke="#ffffff" stroke-width="3.20" />
<line x1="1037.7" y1="145.2" x2="1038.3" y2="249.5" stroke="#ffffff" stroke-width="2.80" />
<line x1="995.0" y1="150.0" x2="1037.7" y2="145.2" stroke="#ffffff" stroke-width="2.20" />
<line x1="998.0" y1="190.9" x2="1038.1" y2="184.4" stroke="#ffffff" stroke-width="2.20" />
<line x1="1004.1" y1="265.3" x2="1037.5" y2="251.4" stroke="#ffffff" stroke-width="2.20" />
<line x1="1037.7" y1="145.2" x2="1134.6" y2="155.6" stroke="#ffffff" stroke-width="2.20" />
<line x1="1065.7" y1="148.7" x2="1066.3" y2="258.2" stroke="#ffffff" stroke-width="2.60" />
<line x1="1096.0" y1="151.9" x2="1096.0" y2="163.8" stroke="#ffffff" stroke-width="2.40" />
<line x1="1037.5" y1="251.4" x2="1090.0" y2="268.9" stroke="#ffffff" stroke-width="2.20" />
<line x1="1007.8" y1="150.8" x2="1014.3" y2="158.4" stroke="#ffffff" stroke-width="1.30" />
<line x1="1028.4" y1="147.6" x2="1034.9" y2="153.0" stroke="#ffffff" stroke-width="1.30" />
<line x1="1040.3" y1="153.0" x2="1045.7" y2="147.6" stroke="#ffffff" stroke-width="1.30" />
<line x1="1057.6" y1="148.7" x2="1063.0" y2="155.2" stroke="#ffffff" stroke-width="1.30" />
<line x1="1068.5" y1="156.3" x2="1073.9" y2="150.4" stroke="#ffffff" stroke-width="1.30" />
<line x1="1001.3" y1="183.4" x2="1008.8" y2="176.4" stroke="#ffffff" stroke-width="1.30" />
<line x1="1017.5" y1="186.6" x2="1025.1" y2="175.8" stroke="#ffffff" stroke-width="1.30" />
<line x1="1039.2" y1="181.2" x2="1044.6" y2="172.5" stroke="#ffffff" stroke-width="1.30" />
<line x1="1004.5" y1="258.2" x2="1011.0" y2="247.3" stroke="#ffffff" stroke-width="1.30" />
<line x1="1021.9" y1="252.7" x2="1030.5" y2="241.9" stroke="#ffffff" stroke-width="1.30" />
</g>
<polygon points="997.6,174.7 1038.8,167.8 1050.5,170.4 1008.4,177.9" fill="#fff" stroke="#444" stroke-width="0.6" stroke-linejoin="round"/>
<polygon points="997.6,174.7 1008.4,177.9 1008.4,180.1 997.6,176.9" fill="#fff" stroke="#444" stroke-width="0.6" stroke-linejoin="round"/>
<polygon points="1008.4,177.9 1050.5,170.4 1050.5,172.5 1008.4,180.1" fill="#fff" stroke="#444" stroke-width="0.6" stroke-linejoin="round"/>
<polygon points="1051.1,194.2 1076.1,189.4 1089.1,186.0 1089.1,192.5 1080.4,195.9 1057.6,196.8" fill="#fff" stroke="#444" stroke-width="0.6" stroke-linejoin="round"/>
<polygon points="1057.6,196.8 1080.4,195.9 1086.9,209.8 1083.6,210.5 1076.1,198.5 1059.8,199.0" fill="#fff" stroke="#444" stroke-width="0.6" stroke-linejoin="round"/>
<polygon points="1021.9,220.7 1039.6,215.9 1054.8,219.3 1037.0,225.0" fill="#fff" stroke="#444" stroke-width="0.6" stroke-linejoin="round"/>
<polygon points="1021.9,220.7 1037.0,225.0 1037.0,235.8 1021.9,232.8" fill="#fff" stroke="#444" stroke-width="0.6" stroke-linejoin="round"/>
<polygon points="1037.0,225.0 1054.8,219.3 1054.8,227.2 1037.0,235.8" fill="#f1f1f1" stroke="#444" stroke-width="0.6" stroke-linejoin="round"/>
<polygon points="1001.9,243.6 1031.6,237.1 1036.6,239.3 1006.7,246.7" fill="#fff" stroke="#444" stroke-width="0.6" stroke-linejoin="round"/>
<polygon points="1001.9,243.6 1006.7,246.7 1006.7,248.4 1001.9,245.6" fill="#fff" stroke="#444" stroke-width="0.6" stroke-linejoin="round"/>
<g stroke-linecap="square">
<line x1="1091.0" y1="164.3" x2="1091.1" y2="306.3" stroke="#6a6a6a" stroke-width="4.20" />
<line x1="1133.1" y1="155.6" x2="1129.2" y2="281.1" stroke="#6a6a6a" stroke-width="4.00" />
<line x1="1113.3" y1="159.9" x2="1110.3" y2="293.4" stroke="#6a6a6a" stroke-width="3.40" />
<line x1="1091.0" y1="164.3" x2="1133.1" y2="155.6" stroke="#6a6a6a" stroke-width="3.40" />
<line x1="1091.7" y1="217.0" x2="1132.4" y2="204.4" stroke="#6a6a6a" stroke-width="3.40" />
<line x1="1091.1" y1="306.3" x2="1129.2" y2="281.5" stroke="#6a6a6a" stroke-width="3.40" />
<line x1="1093.4" y1="175.8" x2="1101.0" y2="164.9" stroke="#6a6a6a" stroke-width="2.30" />
<line x1="1105.3" y1="163.8" x2="1111.8" y2="172.5" stroke="#6a6a6a" stroke-width="2.30" />
<line x1="1115.1" y1="172.5" x2="1121.6" y2="161.7" stroke="#6a6a6a" stroke-width="2.30" />
<line x1="1125.5" y1="161.2" x2="1131.3" y2="169.3" stroke="#6a6a6a" stroke-width="2.30" />
<line x1="1092.1" y1="300.0" x2="1098.8" y2="294.8" stroke="#6a6a6a" stroke-width="2.30" />
<line x1="1105.8" y1="287.8" x2="1111.0" y2="292.1" stroke="#6a6a6a" stroke-width="2.30" />
<line x1="1112.8" y1="290.4" x2="1118.0" y2="282.5" stroke="#6a6a6a" stroke-width="2.30" />
<line x1="1123.3" y1="282.5" x2="1127.7" y2="275.9" stroke="#6a6a6a" stroke-width="2.30" />
<line x1="1091.0" y1="164.3" x2="1091.1" y2="306.3" stroke="#ffffff" stroke-width="3.20" />
<line x1="1133.1" y1="155.6" x2="1129.2" y2="281.1" stroke="#ffffff" stroke-width="3.00" />
<line x1="1113.3" y1="159.9" x2="1110.3" y2="293.4" stroke="#ffffff" stroke-width="2.40" />
<line x1="1091.0" y1="164.3" x2="1133.1" y2="155.6" stroke="#ffffff" stroke-width="2.40" />
<line x1="1091.7" y1="217.0" x2="1132.4" y2="204.4" stroke="#ffffff" stroke-width="2.40" />
<line x1="1091.1" y1="306.3" x2="1129.2" y2="281.5" stroke="#ffffff" stroke-width="2.40" />
<line x1="1093.4" y1="175.8" x2="1101.0" y2="164.9" stroke="#ffffff" stroke-width="1.30" />
<line x1="1105.3" y1="163.8" x2="1111.8" y2="172.5" stroke="#ffffff" stroke-width="1.30" />
<line x1="1115.1" y1="172.5" x2="1121.6" y2="161.7" stroke="#ffffff" stroke-width="1.30" />
<line x1="1125.5" y1="161.2" x2="1131.3" y2="169.3" stroke="#ffffff" stroke-width="1.30" />
<line x1="1092.1" y1="300.0" x2="1098.8" y2="294.8" stroke="#ffffff" stroke-width="1.30" />
<line x1="1105.8" y1="287.8" x2="1111.0" y2="292.1" stroke="#ffffff" stroke-width="1.30" />
<line x1="1112.8" y1="290.4" x2="1118.0" y2="282.5" stroke="#ffffff" stroke-width="1.30" />
<line x1="1123.3" y1="282.5" x2="1127.7" y2="275.9" stroke="#ffffff" stroke-width="1.30" />
</g>
<polygon points="1070.4,272.0 1089.7,264.3 1089.7,267.5 1075.7,275.9" fill="#fff" stroke="#444" stroke-width="0.6" stroke-linejoin="round"/>
<polygon points="1075.7,275.9 1089.7,273.8 1088.6,289.5 1085.7,287.8" fill="#fff" stroke="#444" stroke-width="0.6" stroke-linejoin="round"/>
<polygon points="1078.7,276.9 1087.4,275.9 1087.2,285.7" fill="url(#hVl)" />
<polygon points="1008.6,286.0 1037.5,276.4 1046.3,279.9 1018.3,290.4" fill="#fff" stroke="#9a9a9a" stroke-width="0.6" stroke-linejoin="round"/>
<polygon points="1008.6,286.0 1018.3,290.4 1018.3,291.6 1008.6,287.2" fill="#fff" stroke="#9a9a9a" stroke-width="0.6" stroke-linejoin="round"/>
<polygon points="1018.3,290.4 1046.3,279.9 1046.3,281.1 1018.3,291.6" fill="#fff" stroke="#9a9a9a" stroke-width="0.6" stroke-linejoin="round"/>
<line x1="1013.0" y1="289.2" x2="1019.7" y2="305.3" stroke="#a6a6a6" stroke-width="0.60" />
<line x1="1017.9" y1="291.6" x2="1020.4" y2="305.3" stroke="#a6a6a6" stroke-width="0.60" />
<line x1="1030.9" y1="286.9" x2="1034.0" y2="297.9" stroke="#a6a6a6" stroke-width="0.60" />
<line x1="1034.4" y1="285.7" x2="1034.7" y2="297.9" stroke="#a6a6a6" stroke-width="0.60" />
<line x1="1042.8" y1="282.2" x2="1045.4" y2="291.6" stroke="#a6a6a6" stroke-width="0.60" />
<line x1="1045.9" y1="281.1" x2="1045.9" y2="291.3" stroke="#a6a6a6" stroke-width="0.60" />
<polygon points="1048.9,293.9 1064.6,289.5 1072.5,293.9 1056.8,298.6" fill="#fff" stroke="#9a9a9a" stroke-width="0.6" stroke-linejoin="round"/>
<polygon points="1056.8,298.6 1072.5,293.9 1072.5,305.6 1056.8,310.2" fill="#fff" stroke="#9a9a9a" stroke-width="0.6" stroke-linejoin="round"/>
<polygon points="1048.9,293.9 1056.8,298.6 1056.8,310.2 1050.1,304.4" fill="#fff" stroke="#9a9a9a" stroke-width="0.6" stroke-linejoin="round"/>
<line x1="1056.8" y1="301.8" x2="1072.5" y2="297.4" stroke="#a6a6a6" stroke-width="0.50" />
<line x1="1056.8" y1="304.4" x2="1072.5" y2="300.0" stroke="#a6a6a6" stroke-width="0.50" />
<line x1="1056.8" y1="307.0" x2="1072.5" y2="302.6" stroke="#a6a6a6" stroke-width="0.50" />
<polygon points="1034.0,310.5 1052.4,304.4 1059.4,307.9 1041.4,315.8" fill="#fff" stroke="#9a9a9a" stroke-width="0.6" stroke-linejoin="round"/>
<polygon points="1034.0,310.5 1041.4,315.8 1041.4,317.0 1034.0,311.8" fill="#fff" stroke="#9a9a9a" stroke-width="0.6" stroke-linejoin="round"/>
<polygon points="1041.4,315.8 1059.4,307.9 1059.4,309.1 1041.4,317.0" fill="#fff" stroke="#9a9a9a" stroke-width="0.6" stroke-linejoin="round"/>
<line x1="1036.6" y1="313.7" x2="1042.8" y2="328.9" stroke="#a6a6a6" stroke-width="0.60" />
<line x1="1041.4" y1="317.0" x2="1043.3" y2="328.9" stroke="#a6a6a6" stroke-width="0.60" />
<line x1="1055.0" y1="310.9" x2="1057.6" y2="322.8" stroke="#a6a6a6" stroke-width="0.60" />
<line x1="1058.5" y1="309.1" x2="1058.5" y2="322.4" stroke="#a6a6a6" stroke-width="0.60" />
<line x1="1067.3" y1="307.9" x2="1070.8" y2="317.5" stroke="#a6a6a6" stroke-width="0.60" />
<line x1="1071.7" y1="306.1" x2="1071.5" y2="317.2" stroke="#a6a6a6" stroke-width="0.60" />
<path d="M1075.6,232.1 L1064.1,215.9 L1061.2,223.6 C1050,222 1037.5,230 1033.6,247 C1031.4,258 1034.8,268 1042.8,277.3 C1040.6,266 1039.6,253 1043.2,246.4 C1046,241.6 1051,239.4 1056.2,238.8 L1052.2,247.3 Z" fill="#000"/>
</g>
<g id="step3">
<polygon points="1239.1,182.1 1347.6,170.8 1381.6,179.3 1261.7,194.6" fill="url(#gMl)" />
<polygon points="1240.2,183.2 1262.3,195.1 1269.1,323.8 1247.6,288.9" fill="url(#gMd)" />
<polygon points="1263.4,195.1 1380.7,179.8 1375.1,289.8 1270.2,324.3" fill="url(#gMd)" />
<polygon points="1267.4,282.4 1307.1,276.7 1309.3,311.6 1270.2,324.3" fill="url(#gM)" />
<polygon points="1312.7,233.1 1343.9,228.9 1345.0,298.8 1311.6,310.2" fill="url(#gM)" opacity="0.75"/>
<polygon points="1349.0,258.6 1377.3,252.9 1375.1,289.8 1346.7,298.8" fill="url(#gM)" opacity="0.8"/>
<polygon points="1350.4,188.3 1378.8,183.2 1377.9,216.7 1349.6,220.9" fill="url(#gM)" opacity="0.6"/>
<polygon points="1267.4,228.0 1307.1,222.9 1307.6,276.2 1268.0,281.8" fill="#000" opacity="0.22"/>
<polygon points="1313.3,233.1 1343.9,228.9 1344.2,271.1 1312.7,276.2" fill="#000" opacity="0.22"/>
<polygon points="1349.0,218.1 1377.9,213.8 1377.3,252.4 1348.7,258.0" fill="#000" opacity="0.18"/>
<polygon points="1243.0,230.8 1263.4,240.8 1265.7,293.2 1247.0,279.0" fill="#000" opacity="0.15"/>
<polygon points="1329.7,242.7 1354.7,239.3 1354.7,254.9 1329.7,258.6" fill="#dcdcdc" stroke="#555" stroke-width="0.5"/>
<line x1="1329.7" y1="248.4" x2="1354.7" y2="245.0" stroke="#777" stroke-width="0.50" />
<line x1="1329.7" y1="251.8" x2="1354.7" y2="248.4" stroke="#777" stroke-width="0.50" />
<line x1="1329.7" y1="255.2" x2="1354.7" y2="251.8" stroke="#777" stroke-width="0.50" />
<polygon points="1352.4,199.7 1373.1,197.4 1376.8,201.9 1354.7,204.8" fill="#d0d0d0" stroke="#555" stroke-width="0.5"/>
<polygon points="1349.0,265.4 1371.7,262.0 1373.1,269.1 1350.4,272.8" fill="#c8c8c8" stroke="#555" stroke-width="0.5"/>
<polygon points="1269.7,220.9 1290.9,218.1 1298.0,225.2 1275.3,228.0" fill="#bdbdbd" stroke="#555" stroke-width="0.5"/>
<g stroke-linecap="square">
<line x1="1239.1" y1="182.1" x2="1347.6" y2="170.8" stroke="#6a6a6a" stroke-width="3.20" />
<line x1="1347.6" y1="170.8" x2="1381.6" y2="179.3" stroke="#6a6a6a" stroke-width="3.20" />
<line x1="1239.1" y1="182.1" x2="1261.7" y2="194.6" stroke="#6a6a6a" stroke-width="3.20" />
<line x1="1315.0" y1="174.7" x2="1316.4" y2="188.3" stroke="#6a6a6a" stroke-width="2.60" />
<line x1="1241.3" y1="182.7" x2="1247.6" y2="288.9" stroke="#6a6a6a" stroke-width="4.00" />
<line x1="1242.8" y1="225.7" x2="1264.0" y2="237.1" stroke="#6a6a6a" stroke-width="3.40" />
<line x1="1247.6" y1="288.9" x2="1269.7" y2="324.3" stroke="#6a6a6a" stroke-width="3.40" />
<line x1="1264.3" y1="194.6" x2="1270.2" y2="324.3" stroke="#6a6a6a" stroke-width="5.80" />
<line x1="1379.3" y1="179.3" x2="1375.1" y2="289.8" stroke="#6a6a6a" stroke-width="5.40" />
<line x1="1264.3" y1="194.6" x2="1379.3" y2="179.3" stroke="#6a6a6a" stroke-width="3.80" />
<line x1="1270.2" y1="324.3" x2="1375.1" y2="289.8" stroke="#6a6a6a" stroke-width="4.00" />
<line x1="1309.1" y1="188.3" x2="1310.2" y2="310.7" stroke="#6a6a6a" stroke-width="4.40" />
<line x1="1312.5" y1="189.5" x2="1313.3" y2="309.6" stroke="#6a6a6a" stroke-width="3.20" />
<line x1="1347.0" y1="184.4" x2="1346.7" y2="299.4" stroke="#6a6a6a" stroke-width="4.40" />
<line x1="1343.9" y1="185.5" x2="1343.6" y2="299.4" stroke="#6a6a6a" stroke-width="3.20" />
<line x1="1313.9" y1="232.5" x2="1343.3" y2="228.3" stroke="#6a6a6a" stroke-width="4.00" />
<line x1="1267.1" y1="282.1" x2="1307.6" y2="276.5" stroke="#6a6a6a" stroke-width="4.20" />
<line x1="1349.0" y1="258.0" x2="1377.3" y2="252.4" stroke="#6a6a6a" stroke-width="4.20" />
<line x1="1243.6" y1="191.2" x2="1249.8" y2="186.1" stroke="#6a6a6a" stroke-width="2.30" />
<line x1="1254.1" y1="193.4" x2="1259.8" y2="202.5" stroke="#6a6a6a" stroke-width="2.30" />
<line x1="1266.8" y1="205.3" x2="1276.8" y2="195.4" stroke="#6a6a6a" stroke-width="2.30" />
<line x1="1296.6" y1="191.7" x2="1306.5" y2="202.5" stroke="#6a6a6a" stroke-width="2.30" />
<line x1="1350.4" y1="198.3" x2="1358.9" y2="187.8" stroke="#6a6a6a" stroke-width="2.30" />
<line x1="1370.3" y1="185.5" x2="1377.9" y2="195.4" stroke="#6a6a6a" stroke-width="2.30" />
<line x1="1249.8" y1="284.7" x2="1256.9" y2="298.8" stroke="#6a6a6a" stroke-width="2.30" />
<line x1="1272.5" y1="314.4" x2="1281.0" y2="321.5" stroke="#6a6a6a" stroke-width="2.30" />
<line x1="1298.0" y1="315.3" x2="1307.9" y2="305.9" stroke="#6a6a6a" stroke-width="2.30" />
<line x1="1348.4" y1="293.2" x2="1354.7" y2="296.6" stroke="#6a6a6a" stroke-width="2.30" />
<line x1="1366.0" y1="292.6" x2="1374.5" y2="281.8" stroke="#6a6a6a" stroke-width="2.30" />
<line x1="1239.1" y1="182.1" x2="1347.6" y2="170.8" stroke="#ffffff" stroke-width="2.20" />
<line x1="1347.6" y1="170.8" x2="1381.6" y2="179.3" stroke="#ffffff" stroke-width="2.20" />
<line x1="1239.1" y1="182.1" x2="1261.7" y2="194.6" stroke="#ffffff" stroke-width="2.20" />
<line x1="1315.0" y1="174.7" x2="1316.4" y2="188.3" stroke="#ffffff" stroke-width="1.60" />
<line x1="1241.3" y1="182.7" x2="1247.6" y2="288.9" stroke="#ffffff" stroke-width="3.00" />
<line x1="1242.8" y1="225.7" x2="1264.0" y2="237.1" stroke="#ffffff" stroke-width="2.40" />
<line x1="1247.6" y1="288.9" x2="1269.7" y2="324.3" stroke="#ffffff" stroke-width="2.40" />
<line x1="1264.3" y1="194.6" x2="1270.2" y2="324.3" stroke="#ffffff" stroke-width="4.80" />
<line x1="1379.3" y1="179.3" x2="1375.1" y2="289.8" stroke="#ffffff" stroke-width="4.40" />
<line x1="1264.3" y1="194.6" x2="1379.3" y2="179.3" stroke="#ffffff" stroke-width="2.80" />
<line x1="1270.2" y1="324.3" x2="1375.1" y2="289.8" stroke="#ffffff" stroke-width="3.00" />
<line x1="1309.1" y1="188.3" x2="1310.2" y2="310.7" stroke="#ffffff" stroke-width="3.40" />
<line x1="1312.5" y1="189.5" x2="1313.3" y2="309.6" stroke="#ffffff" stroke-width="2.20" />
<line x1="1347.0" y1="184.4" x2="1346.7" y2="299.4" stroke="#ffffff" stroke-width="3.40" />
<line x1="1343.9" y1="185.5" x2="1343.6" y2="299.4" stroke="#ffffff" stroke-width="2.20" />
<line x1="1313.9" y1="232.5" x2="1343.3" y2="228.3" stroke="#ffffff" stroke-width="3.00" />
<line x1="1267.1" y1="282.1" x2="1307.6" y2="276.5" stroke="#ffffff" stroke-width="3.20" />
<line x1="1349.0" y1="258.0" x2="1377.3" y2="252.4" stroke="#ffffff" stroke-width="3.20" />
<line x1="1243.6" y1="191.2" x2="1249.8" y2="186.1" stroke="#ffffff" stroke-width="1.30" />
<line x1="1254.1" y1="193.4" x2="1259.8" y2="202.5" stroke="#ffffff" stroke-width="1.30" />
<line x1="1266.8" y1="205.3" x2="1276.8" y2="195.4" stroke="#ffffff" stroke-width="1.30" />
<line x1="1296.6" y1="191.7" x2="1306.5" y2="202.5" stroke="#ffffff" stroke-width="1.30" />
<line x1="1350.4" y1="198.3" x2="1358.9" y2="187.8" stroke="#ffffff" stroke-width="1.30" />
<line x1="1370.3" y1="185.5" x2="1377.9" y2="195.4" stroke="#ffffff" stroke-width="1.30" />
<line x1="1249.8" y1="284.7" x2="1256.9" y2="298.8" stroke="#ffffff" stroke-width="1.30" />
<line x1="1272.5" y1="314.4" x2="1281.0" y2="321.5" stroke="#ffffff" stroke-width="1.30" />
<line x1="1298.0" y1="315.3" x2="1307.9" y2="305.9" stroke="#ffffff" stroke-width="1.30" />
<line x1="1348.4" y1="293.2" x2="1354.7" y2="296.6" stroke="#ffffff" stroke-width="1.30" />
<line x1="1366.0" y1="292.6" x2="1374.5" y2="281.8" stroke="#ffffff" stroke-width="1.30" />
</g>
<circle cx="1312.2" cy="212.7" r="1.4" fill="#111"/>
<circle cx="1311.0" cy="289.2" r="1.4" fill="#111"/>
<g stroke="#8a8a8a" stroke-width="0.7" fill="none">
<circle cx="1266" cy="154" r="18.2" fill="#fff"/>
<path d="M1264.5,136.5V171.5M1268.5,136V172M1248,156H1284M1248.5,150H1283.5"/>
<rect x="1258" y="150.5" width="9" height="5" fill="#fff"/><rect x="1270" y="150" width="8" height="6" fill="url(#gMl)"/>
<path d="M1272,139v9M1276,141v8M1280,144v6M1270,143h12M1270,147h13" stroke-width="0.5"/>
<path d="M1276.5,169 L1312,212 M1279.5,166.5 L1312,212 M1278,170 L1311,288" stroke="#777" stroke-width="0.7"/>
</g>
</g>
<g id="step4">
<g id="cage4">
<polygon points="758.4,437.6 935.6,437.6 917.8,532.0 777.6,532.0" fill="#e9e9e9" />
<polygon points="761.9,437.6 816.9,437.6 821.6,501.8 774.5,501.8" fill="#c6c6c6" />
<polygon points="877.1,437.6 932.1,437.6 920.5,501.8 873.3,501.8" fill="#c6c6c6" />
<polygon points="824.1,440.4 869.9,440.4 868.6,471.6 825.9,471.6" fill="#bdbdbd" />
<polygon points="826.1,474.4 868.4,474.4 866.0,529.2 829.3,529.2" fill="#efefef" />
<polygon points="794.1,439.5 815.3,439.5 816.6,456.5 796.2,456.5" fill="#4e4e4e" />
<polygon points="878.8,439.5 900.0,439.5 898.1,456.5 877.7,456.5" fill="#4e4e4e" />
<polygon points="805.1,460.3 817.7,460.3 819.9,489.5 808.2,489.5" fill="#444" />
<polygon points="876.6,460.3 889.2,460.3 886.6,489.5 874.8,489.5" fill="#444" />
<polygon points="826.1,445.2 868.0,445.2 867.0,468.8 827.4,468.8" fill="#8c8c8c" />
<polygon points="829.5,477.2 865.1,477.2 864.8,484.8 829.9,484.8" fill="#7a7a7a" />
<polygon points="774.5,458.4 804.9,458.4 802.4,465.9 779.1,465.9" fill="#e2e2e2" />
<polygon points="889.4,458.4 919.8,458.4 915.3,465.9 892.1,465.9" fill="#e2e2e2" />
<polygon points="779.7,479.1 815.1,479.1 821.6,500.8 778.9,500.8" fill="#e0e0e0" />
<polygon points="879.5,479.1 914.9,479.1 916.1,500.8 873.4,500.8" fill="#e0e0e0" />
<polygon points="787.9,509.3 808.8,509.3 809.2,513.1 788.5,513.1" fill="#777" />
<polygon points="886.3,509.3 907.2,509.3 906.6,513.1 885.9,513.1" fill="#777" />
<polygon points="768.9,455.5 778.7,456.5 780.4,500.6 775.2,500.6" fill="#141414" />
<polygon points="925.4,455.5 915.6,456.5 914.6,500.6 919.8,500.6" fill="#141414" />
<polygon points="772.4,456.5 780.9,456.5 776.3,464.0 772.5,465.9" fill="#e6e6e6" />
<polygon points="921.9,456.5 913.4,456.5 918.1,464.0 922.0,465.9" fill="#e6e6e6" />
<polygon points="758.4,437.6 935.6,437.6 917.8,532.0 777.6,532.0" fill="url(#gK)" />
<g stroke-linecap="butt">
<line x1="760.5" y1="437.6" x2="779.3" y2="532.0" stroke="#4a4a4a" stroke-width="4.60" />
<line x1="933.5" y1="437.6" x2="916.1" y2="532.0" stroke="#4a4a4a" stroke-width="4.60" />
<line x1="760.6" y1="438.7" x2="933.4" y2="438.7" stroke="#4a4a4a" stroke-width="2.60" />
<line x1="778.9" y1="530.6" x2="916.5" y2="530.6" stroke="#4a4a4a" stroke-width="3.20" />
<line x1="817.9" y1="437.6" x2="823.9" y2="532.0" stroke="#4a4a4a" stroke-width="5.00" />
<line x1="823.0" y1="439.5" x2="827.7" y2="530.1" stroke="#4a4a4a" stroke-width="3.80" />
<line x1="876.1" y1="437.6" x2="871.5" y2="532.0" stroke="#4a4a4a" stroke-width="5.00" />
<line x1="871.0" y1="439.5" x2="867.7" y2="530.1" stroke="#4a4a4a" stroke-width="3.80" />
<line x1="826.0" y1="472.5" x2="868.5" y2="472.5" stroke="#4a4a4a" stroke-width="4.20" />
<line x1="824.1" y1="440.4" x2="869.9" y2="440.4" stroke="#4a4a4a" stroke-width="3.00" />
<line x1="776.3" y1="503.2" x2="821.0" y2="503.2" stroke="#4a4a4a" stroke-width="4.60" />
<line x1="874.0" y1="503.2" x2="918.7" y2="503.2" stroke="#4a4a4a" stroke-width="4.60" />
<line x1="764.5" y1="446.1" x2="773.6" y2="438.5" stroke="#4a4a4a" stroke-width="2.70" />
<line x1="929.7" y1="446.1" x2="920.4" y2="438.5" stroke="#4a4a4a" stroke-width="2.70" />
<line x1="803.7" y1="438.5" x2="816.6" y2="446.1" stroke="#4a4a4a" stroke-width="2.70" />
<line x1="890.3" y1="438.5" x2="877.5" y2="446.1" stroke="#4a4a4a" stroke-width="2.70" />
<line x1="782.7" y1="525.4" x2="791.5" y2="531.1" stroke="#4a4a4a" stroke-width="2.70" />
<line x1="912.6" y1="525.4" x2="903.9" y2="531.1" stroke="#4a4a4a" stroke-width="2.70" />
<line x1="815.4" y1="531.1" x2="822.2" y2="525.4" stroke="#4a4a4a" stroke-width="2.70" />
<line x1="880.0" y1="531.1" x2="873.1" y2="525.4" stroke="#4a4a4a" stroke-width="2.70" />
<line x1="760.5" y1="437.6" x2="779.3" y2="532.0" stroke="#ffffff" stroke-width="3.60" />
<line x1="933.5" y1="437.6" x2="916.1" y2="532.0" stroke="#ffffff" stroke-width="3.60" />
<line x1="760.6" y1="438.7" x2="933.4" y2="438.7" stroke="#ffffff" stroke-width="1.60" />
<line x1="778.9" y1="530.6" x2="916.5" y2="530.6" stroke="#ffffff" stroke-width="2.20" />
<line x1="817.9" y1="437.6" x2="823.9" y2="532.0" stroke="#ffffff" stroke-width="4.00" />
<line x1="823.0" y1="439.5" x2="827.7" y2="530.1" stroke="#ffffff" stroke-width="2.80" />
<line x1="876.1" y1="437.6" x2="871.5" y2="532.0" stroke="#ffffff" stroke-width="4.00" />
<line x1="871.0" y1="439.5" x2="867.7" y2="530.1" stroke="#ffffff" stroke-width="2.80" />
<line x1="826.0" y1="472.5" x2="868.5" y2="472.5" stroke="#ffffff" stroke-width="3.20" />
<line x1="824.1" y1="440.4" x2="869.9" y2="440.4" stroke="#ffffff" stroke-width="2.00" />
<line x1="776.3" y1="503.2" x2="821.0" y2="503.2" stroke="#ffffff" stroke-width="3.60" />
<line x1="874.0" y1="503.2" x2="918.7" y2="503.2" stroke="#ffffff" stroke-width="3.60" />
<line x1="764.5" y1="446.1" x2="773.6" y2="438.5" stroke="#ffffff" stroke-width="1.70" />
<line x1="929.7" y1="446.1" x2="920.4" y2="438.5" stroke="#ffffff" stroke-width="1.70" />
<line x1="803.7" y1="438.5" x2="816.6" y2="446.1" stroke="#ffffff" stroke-width="1.70" />
<line x1="890.3" y1="438.5" x2="877.5" y2="446.1" stroke="#ffffff" stroke-width="1.70" />
<line x1="782.7" y1="525.4" x2="791.5" y2="531.1" stroke="#ffffff" stroke-width="1.70" />
<line x1="912.6" y1="525.4" x2="903.9" y2="531.1" stroke="#ffffff" stroke-width="1.70" />
<line x1="815.4" y1="531.1" x2="822.2" y2="525.4" stroke="#ffffff" stroke-width="1.70" />
<line x1="880.0" y1="531.1" x2="873.1" y2="525.4" stroke="#ffffff" stroke-width="1.70" />
</g>
<rect x="820.5" y="456.5" width="3" height="1.6" fill="#111"/><rect x="824.2" y="516.9" width="3" height="1.6" fill="#111"/>
</g>
<polygon points="767.0,381.8 928.2,381.8 942.0,436.0 752.2,436.0" fill="#ffffff" stroke="#555" stroke-width="0.7" stroke-linejoin="round"/>
<polygon points="752.2,436.0 942.0,436.0 942.0,437.6 752.2,437.6" fill="#fff" stroke="#555" stroke-width="0.7" stroke-linejoin="round"/>
<polygon points="817.4,380.8 822.0,380.8 819.3,437.4 813.8,437.4" fill="#fff" stroke="#555" stroke-width="0.7" stroke-linejoin="round"/>
<polygon points="872.4,380.8 877.0,380.8 881.5,437.4 876.0,437.4" fill="#fff" stroke="#555" stroke-width="0.7" stroke-linejoin="round"/>
<g fill="#666"><circle cx="780.0" cy="387.0" r="0.55"/><circle cx="805.0" cy="387.0" r="0.55"/><circle cx="771.0" cy="412.0" r="0.55"/><circle cx="763.0" cy="431.0" r="0.55"/><circle cx="783.0" cy="431.0" r="0.55"/><circle cx="806.0" cy="431.0" r="0.55"/><circle cx="834.0" cy="387.0" r="0.55"/><circle cx="861.0" cy="387.0" r="0.55"/><circle cx="831.0" cy="432.0" r="0.55"/><circle cx="862.0" cy="432.0" r="0.55"/><circle cx="889.0" cy="387.0" r="0.55"/><circle cx="916.0" cy="387.0" r="0.55"/><circle cx="924.0" cy="412.0" r="0.55"/><circle cx="933.0" cy="430.0" r="0.55"/><circle cx="912.0" cy="431.0" r="0.55"/><circle cx="886.0" cy="431.0" r="0.55"/></g>
<path d="M955.6,458.8H967.6M961.6,452.8V464.8" stroke="#000" stroke-width="2.6" fill="none"/>
<use href="#tarp" transform="translate(982.6 423.6) scale(0.1107 0.1195)"/>
</g>
<g id="step5">
<g id="cage5">
<polygon points="1164.2,430.4 1340.6,430.4 1324.9,531.6 1180.3,531.6" fill="#e9e9e9" />
<polygon points="1167.7,430.4 1222.4,430.4 1226.2,499.2 1178.2,499.2" fill="#c6c6c6" />
<polygon points="1282.4,430.4 1337.1,430.4 1326.8,499.2 1278.8,499.2" fill="#c6c6c6" />
<polygon points="1229.6,433.4 1275.2,433.4 1273.9,466.8 1231.0,466.8" fill="#bdbdbd" />
<polygon points="1231.2,469.9 1273.8,469.9 1271.5,528.6 1233.7,528.6" fill="#efefef" />
<polygon points="1199.7,432.4 1220.8,432.4 1221.8,450.6 1201.4,450.6" fill="#4e4e4e" />
<polygon points="1284.0,432.4 1305.1,432.4 1303.5,450.6 1283.0,450.6" fill="#4e4e4e" />
<polygon points="1210.3,454.7 1222.9,454.7 1224.7,486.1 1212.8,486.1" fill="#444" />
<polygon points="1282.0,454.7 1294.6,454.7 1292.2,486.1 1280.3,486.1" fill="#444" />
<polygon points="1231.6,438.5 1273.3,438.5 1272.4,463.8 1232.6,463.8" fill="#8c8c8c" />
<polygon points="1234.5,472.9 1270.4,472.9 1270.2,481.0 1234.8,481.0" fill="#7a7a7a" />
<polygon points="1179.6,452.7 1210.1,452.7 1207.4,460.8 1184.0,460.8" fill="#e2e2e2" />
<polygon points="1294.8,452.7 1325.3,452.7 1320.9,460.8 1297.5,460.8" fill="#e2e2e2" />
<polygon points="1184.3,474.9 1220.0,474.9 1226.2,498.2 1182.7,498.2" fill="#e0e0e0" />
<polygon points="1285.0,474.9 1320.7,474.9 1322.3,498.2 1278.9,498.2" fill="#e0e0e0" />
<polygon points="1191.7,507.3 1213.0,507.3 1213.3,511.4 1192.2,511.4" fill="#777" />
<polygon points="1292.1,507.3 1313.4,507.3 1312.9,511.4 1291.8,511.4" fill="#777" />
<polygon points="1174.1,449.6 1183.9,450.6 1184.3,497.9 1179.0,497.9" fill="#141414" />
<polygon points="1330.8,449.6 1321.0,450.6 1320.8,497.9 1326.1,497.9" fill="#141414" />
<polygon points="1177.6,450.6 1186.1,450.6 1181.3,458.7 1177.4,460.8" fill="#e6e6e6" />
<polygon points="1327.3,450.6 1318.8,450.6 1323.6,458.7 1327.5,460.8" fill="#e6e6e6" />
<polygon points="1164.2,430.4 1340.6,430.4 1324.9,531.6 1180.3,531.6" fill="url(#gK)" />
<g stroke-linecap="butt">
<line x1="1166.3" y1="430.4" x2="1182.0" y2="531.6" stroke="#4a4a4a" stroke-width="4.60" />
<line x1="1338.5" y1="430.4" x2="1323.2" y2="531.6" stroke="#4a4a4a" stroke-width="4.60" />
<line x1="1166.3" y1="431.6" x2="1338.5" y2="431.6" stroke="#4a4a4a" stroke-width="2.60" />
<line x1="1181.7" y1="530.1" x2="1323.5" y2="530.1" stroke="#4a4a4a" stroke-width="3.20" />
<line x1="1223.5" y1="430.4" x2="1228.0" y2="531.6" stroke="#4a4a4a" stroke-width="5.00" />
<line x1="1228.5" y1="432.4" x2="1232.0" y2="529.6" stroke="#4a4a4a" stroke-width="3.80" />
<line x1="1281.3" y1="430.4" x2="1277.2" y2="531.6" stroke="#4a4a4a" stroke-width="5.00" />
<line x1="1276.3" y1="432.4" x2="1273.2" y2="529.6" stroke="#4a4a4a" stroke-width="3.80" />
<line x1="1231.1" y1="467.8" x2="1273.9" y2="467.8" stroke="#4a4a4a" stroke-width="4.20" />
<line x1="1229.6" y1="433.4" x2="1275.2" y2="433.4" stroke="#4a4a4a" stroke-width="3.00" />
<line x1="1180.0" y1="500.7" x2="1225.5" y2="500.7" stroke="#4a4a4a" stroke-width="4.60" />
<line x1="1279.5" y1="500.7" x2="1325.1" y2="500.7" stroke="#4a4a4a" stroke-width="4.60" />
<line x1="1170.0" y1="439.5" x2="1179.3" y2="431.4" stroke="#4a4a4a" stroke-width="2.70" />
<line x1="1334.8" y1="439.5" x2="1325.5" y2="431.4" stroke="#4a4a4a" stroke-width="2.70" />
<line x1="1209.3" y1="431.4" x2="1222.0" y2="439.5" stroke="#4a4a4a" stroke-width="2.70" />
<line x1="1295.5" y1="431.4" x2="1282.8" y2="439.5" stroke="#4a4a4a" stroke-width="2.70" />
<line x1="1185.8" y1="524.5" x2="1194.6" y2="530.6" stroke="#4a4a4a" stroke-width="2.70" />
<line x1="1319.4" y1="524.5" x2="1310.6" y2="530.6" stroke="#4a4a4a" stroke-width="2.70" />
<line x1="1219.3" y1="530.6" x2="1226.5" y2="524.5" stroke="#4a4a4a" stroke-width="2.70" />
<line x1="1285.9" y1="530.6" x2="1278.7" y2="524.5" stroke="#4a4a4a" stroke-width="2.70" />
<line x1="1166.3" y1="430.4" x2="1182.0" y2="531.6" stroke="#ffffff" stroke-width="3.60" />
<line x1="1338.5" y1="430.4" x2="1323.2" y2="531.6" stroke="#ffffff" stroke-width="3.60" />
<line x1="1166.3" y1="431.6" x2="1338.5" y2="431.6" stroke="#ffffff" stroke-width="1.60" />
<line x1="1181.7" y1="530.1" x2="1323.5" y2="530.1" stroke="#ffffff" stroke-width="2.20" />
<line x1="1223.5" y1="430.4" x2="1228.0" y2="531.6" stroke="#ffffff" stroke-width="4.00" />
<line x1="1228.5" y1="432.4" x2="1232.0" y2="529.6" stroke="#ffffff" stroke-width="2.80" />
<line x1="1281.3" y1="430.4" x2="1277.2" y2="531.6" stroke="#ffffff" stroke-width="4.00" />
<line x1="1276.3" y1="432.4" x2="1273.2" y2="529.6" stroke="#ffffff" stroke-width="2.80" />
<line x1="1231.1" y1="467.8" x2="1273.9" y2="467.8" stroke="#ffffff" stroke-width="3.20" />
<line x1="1229.6" y1="433.4" x2="1275.2" y2="433.4" stroke="#ffffff" stroke-width="2.00" />
<line x1="1180.0" y1="500.7" x2="1225.5" y2="500.7" stroke="#ffffff" stroke-width="3.60" />
<line x1="1279.5" y1="500.7" x2="1325.1" y2="500.7" stroke="#ffffff" stroke-width="3.60" />
<line x1="1170.0" y1="439.5" x2="1179.3" y2="431.4" stroke="#ffffff" stroke-width="1.70" />
<line x1="1334.8" y1="439.5" x2="1325.5" y2="431.4" stroke="#ffffff" stroke-width="1.70" />
<line x1="1209.3" y1="431.4" x2="1222.0" y2="439.5" stroke="#ffffff" stroke-width="1.70" />
<line x1="1295.5" y1="431.4" x2="1282.8" y2="439.5" stroke="#ffffff" stroke-width="1.70" />
<line x1="1185.8" y1="524.5" x2="1194.6" y2="530.6" stroke="#ffffff" stroke-width="1.70" />
<line x1="1319.4" y1="524.5" x2="1310.6" y2="530.6" stroke="#ffffff" stroke-width="1.70" />
<line x1="1219.3" y1="530.6" x2="1226.5" y2="524.5" stroke="#ffffff" stroke-width="1.70" />
<line x1="1285.9" y1="530.6" x2="1278.7" y2="524.5" stroke="#ffffff" stroke-width="1.70" />
</g>
<rect x="1225.8" y="450.6" width="3" height="1.6" fill="#111"/><rect x="1228.6" y="515.4" width="3" height="1.6" fill="#111"/>
</g>
<polygon points="1170.2,375.8 1334.3,375.8 1346.0,430.4 1157.6,430.4" fill="url(#roofG)" stroke="#5e5c58" stroke-width="0.6"/>
<polygon points="1157.6,430.4 1346.0,430.4 1346.0,431.8 1157.6,431.8" fill="#6f6c68" />
</g>
</svg>
</body>
</html>
